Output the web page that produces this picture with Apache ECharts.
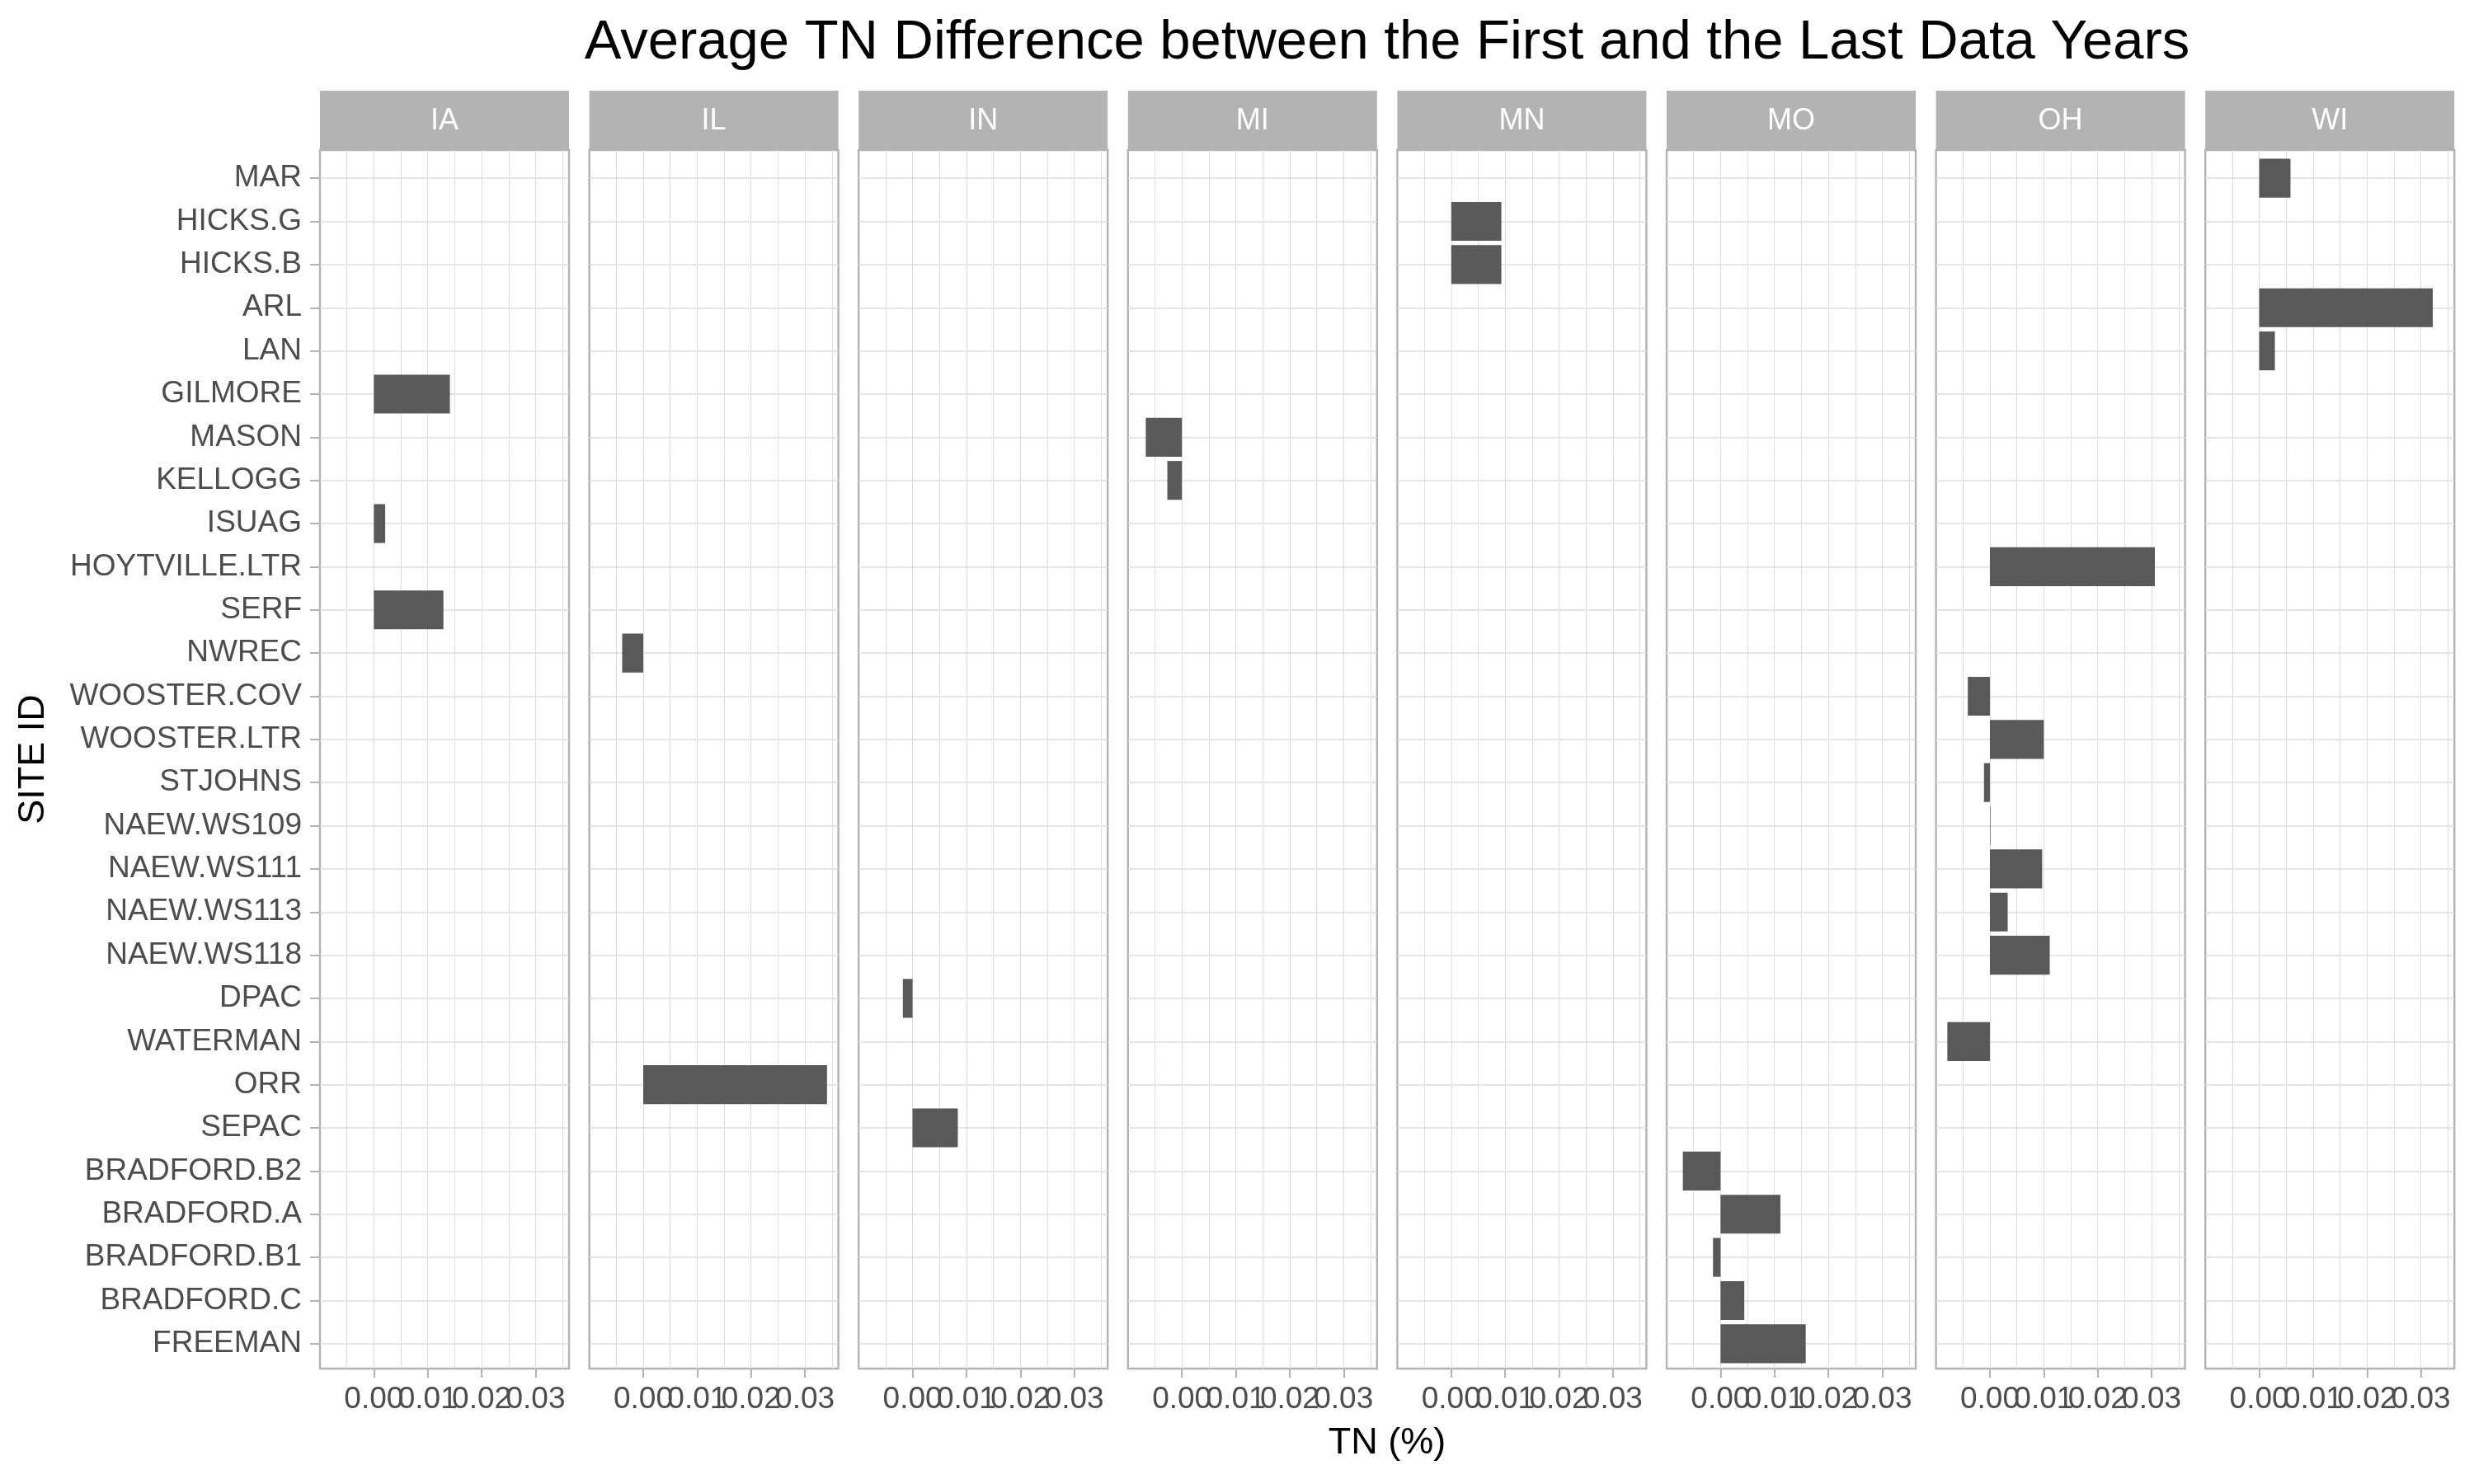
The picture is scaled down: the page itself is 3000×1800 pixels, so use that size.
<!DOCTYPE html>
<html>
<head>
<meta charset="utf-8">
<script src="https://cdn.jsdelivr.net/npm/echarts@6/dist/echarts.min.js"></script>
<style>
html, body { margin: 0; padding: 0; background: #fff; }
#chart { width: 3000px; height: 1800px; }
</style>
</head>
<body>
<div id="chart"></div>
<script>
// data, sites listed top to bottom
var states = ['IA', 'IL', 'IN', 'MI', 'MN', 'MO', 'OH', 'WI']
var sites = ['MAR', 'HICKS.G', 'HICKS.B', 'ARL', 'LAN', 'GILMORE', 'MASON', 'KELLOGG', 'ISUAG',
    'HOYTVILLE.LTR', 'SERF', 'NWREC', 'WOOSTER.COV', 'WOOSTER.LTR', 'STJOHNS', 'NAEW.WS109',
    'NAEW.WS111', 'NAEW.WS113', 'NAEW.WS118', 'DPAC', 'WATERMAN', 'ORR', 'SEPAC',
    'BRADFORD.B2', 'BRADFORD.A', 'BRADFORD.B1', 'BRADFORD.C', 'FREEMAN']
var siteState = ['WI', 'MN', 'MN', 'WI', 'WI', 'IA', 'MI', 'MI', 'IA',
    'OH', 'IA', 'IL', 'OH', 'OH', 'OH', 'OH',
    'OH', 'OH', 'OH', 'IN', 'OH', 'IL', 'IN',
    'MO', 'MO', 'MO', 'MO', 'MO']
var tnDiff = [0.0058, 0.0093, 0.0093, 0.0322, 0.0029, 0.0141, -0.0067, -0.0027, 0.0021,
    0.0306, 0.0129, -0.0039, -0.0041, 0.0100, -0.0011, 0.0001,
    0.0097, 0.0033, 0.0111, -0.0018, -0.0079, 0.0341, 0.0084,
    -0.0070, 0.0111, -0.0014, 0.0044, 0.0158]
var xTicks = [0, 0.01, 0.02, 0.03]

var myChart = echarts.init(document.getElementById('chart'))
var font = 'Liberation Sans'
var panelLeft = 388, panelStep = 326.6, panelWidth = 302
var panelTop = 182, panelHeight = 1478   // frame of each facet
var bandTop = 190, bandHeight = 1466     // area holding the 28 site rows
var xMin = -0.01, xMax = 0.0362
var gridColor = '#dedede', frameColor = '#b3b3b3'

var grids = [], xAxes = [], yAxes = [], series = []
var graphics = [
    {type: 'text', x: 1682, y: 53, style: {text: 'Average TN Difference between the First and the Last Data Years',
        font: 'normal 67px "' + font + '"', fill: '#000', align: 'center', verticalAlign: 'middle'}},
    {type: 'text', x: 1682, y: 1751, style: {text: 'TN (%)',
        font: 'normal 45px "' + font + '"', fill: '#000', align: 'center', verticalAlign: 'middle'}},
    {type: 'text', x: 41, y: 921, rotation: Math.PI / 2, style: {text: 'SITE ID',
        font: 'normal 45px "' + font + '"', fill: '#000', align: 'center', verticalAlign: 'middle'}}
]

// the tick labels overlap each other, so they are split over two axes
function labelAxis(gridIndex, values, splitLine) {
    return {
        gridIndex: gridIndex, type: 'value', position: 'bottom', min: xMin, max: xMax, interval: 0.01,
        axisLine: {show: false, onZero: false},
        axisTick: {show: true, length: 11, customValues: values,
            lineStyle: {color: frameColor, width: 2}},
        axisLabel: {show: true, customValues: values, showMinLabel: true, showMaxLabel: true,
            hideOverlap: false, margin: 19, color: '#4d4d4d', fontSize: 37, fontFamily: font,
            formatter: function (v) { return v.toFixed(2) }},
        splitLine: {show: splitLine, showMinLine: false, showMaxLine: false,
            lineStyle: {color: gridColor, width: 1.7}}
    }
}

states.forEach(function (st, i) {
    var left = panelLeft + i * panelStep
    var frame = i * 2, inner = i * 2 + 1
    grids.push({
        left: left, top: panelTop, width: panelWidth, height: panelHeight,
        show: true, borderColor: frameColor, borderWidth: 2.4
    })
    grids.push({left: left, top: bandTop, width: panelWidth, height: bandHeight})

    // minor vertical grid lines
    xAxes.push({
        gridIndex: frame, type: 'value', min: xMin, max: xMax, interval: 0.005,
        axisLine: {show: false}, axisTick: {show: false}, axisLabel: {show: false},
        splitLine: {show: true, showMinLine: false, showMaxLine: false,
            lineStyle: {color: gridColor, width: 1}}
    })
    xAxes.push(labelAxis(frame, xTicks.filter(function (v, k) { return k % 2 === 0 }), true))
    xAxes.push(labelAxis(frame, xTicks.filter(function (v, k) { return k % 2 === 1 }), false))
    // value axis for the bars
    xAxes.push({
        gridIndex: inner, type: 'value', min: xMin, max: xMax, interval: 0.01,
        axisLine: {show: false}, axisTick: {show: false}, axisLabel: {show: false},
        splitLine: {show: false}
    })
    yAxes.push({
        gridIndex: frame, type: 'value', min: 0, max: 1, show: false
    })
    yAxes.push({
        gridIndex: inner, type: 'category', data: sites, inverse: true,
        axisLine: {show: false, onZero: false},
        axisTick: {show: i === 0, alignWithLabel: true, interval: 0, length: 12,
            lineStyle: {color: frameColor, width: 2}},
        axisLabel: {show: i === 0, interval: 0, margin: 22, color: '#4d4d4d',
            fontSize: 37, fontFamily: font},
        splitLine: {show: true, alignWithLabel: true, interval: 0,
            lineStyle: {color: gridColor, width: 1.7}}
    })
    series.push({
        type: 'bar', xAxisIndex: i * 4 + 3, yAxisIndex: inner,
        barCategoryGap: '10%', silent: true,
        itemStyle: {color: '#595959'},
        data: sites.map(function (s, k) { return siteState[k] === st ? tnDiff[k] : '-' })
    })
    graphics.push({type: 'rect', shape: {x: left, y: 110, width: panelWidth, height: 72},
        style: {fill: frameColor}})
    graphics.push({type: 'text', x: left + panelWidth / 2, y: 147,
        style: {text: st, font: 'normal 36px "' + font + '"', fill: '#fff',
            align: 'center', verticalAlign: 'middle'}})
})

option = {
    animation: false,
    backgroundColor: '#fff',
    grid: grids,
    xAxis: xAxes,
    yAxis: yAxes,
    series: series,
    graphic: graphics
}
myChart.setOption(option)
</script>
</body>
</html>
